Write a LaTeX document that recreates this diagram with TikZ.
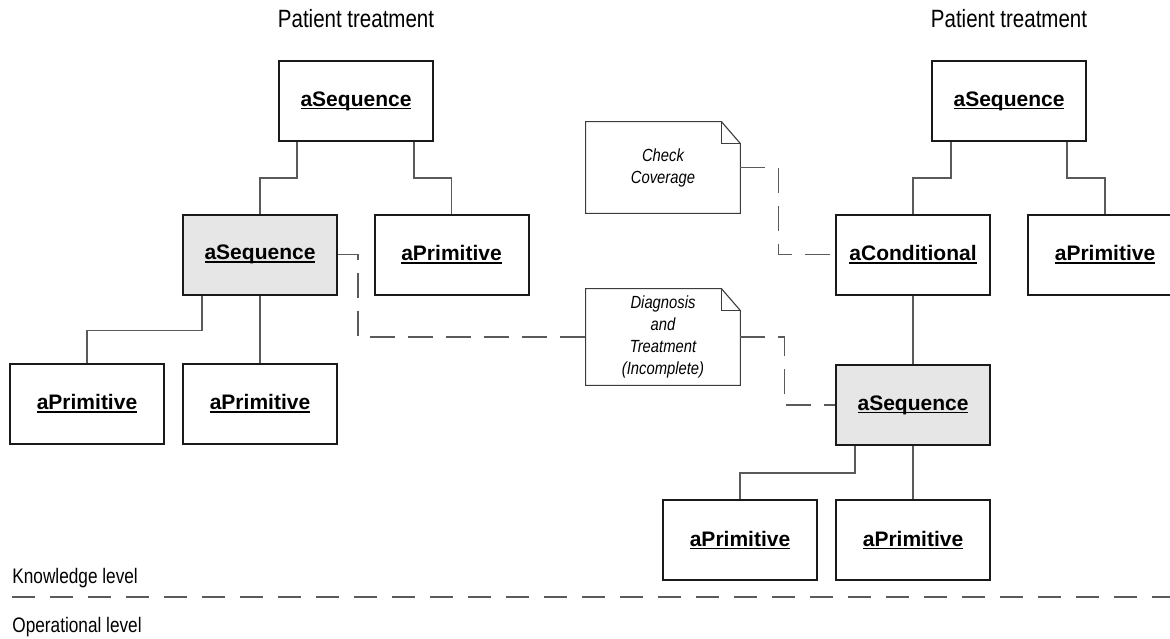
\documentclass[tikz,border=0pt]{standalone}
\usepackage{fontspec}
\setmainfont{Liberation Sans}
\newfontfamily\narrowfont[FakeStretch=0.82]{Liberation Sans}
\newfontfamily\notefont[FakeStretch=0.84]{Liberation Sans}
\definecolor{boxgray}{HTML}{E6E6E6}
\definecolor{linkgray}{HTML}{5A5A5A}
\definecolor{edgeblack}{HTML}{1A1A1A}
% underline sitting just under the baseline
\newcommand\labul[1]{\setbox0\hbox{#1}\rlap{\rule[-1.6pt]{\wd0}{0.75pt}}\box0}
\tikzset{
  obj/.style={draw=edgeblack, line width=1pt, minimum width=77pt, minimum height=40pt,
    inner sep=0pt, font=\bfseries\fontsize{10.5}{12}\selectfont},
  active/.style={obj, fill=boxgray},
  link/.style={draw=linkgray, line width=0.6pt},
  notebox/.style={minimum width=77pt, inner sep=0pt, align=center,
    font=\notefont\itshape\fontsize{8.8}{11}\selectfont},
  noteedge/.style={draw=edgeblack!85, line width=0.55pt, line join=miter},
  noteline/.style={draw=linkgray, line width=0.7pt, dash pattern=on 12.5pt off 6.5pt},
  levelline/.style={draw=linkgray, line width=0.8pt, dash pattern=on 11.5pt off 7.5pt},
  heading/.style={inner sep=0pt, font=\narrowfont\fontsize{12.5}{14}\selectfont},
  levellabel/.style={inner sep=0pt, anchor=base west, font=\narrowfont\fontsize{10.5}{12}\selectfont}
}
\begin{document}
\begin{tikzpicture}[x=0.5pt, y=-0.5pt]
\useasboundingbox (0,0) rectangle (1170,638);
\clip (0,0) rectangle (1170,638);

% headings
\node[heading] (h1) at (356,19) {Patient treatment};
\node[heading] (h2) at (1009,19) {Patient treatment};

% left tree
\node[obj]    (ls)  at (356,101)   {\labul{aSequence}};
\node[active] (lg)  at (260,254.5) {\labul{aSequence}};
\node[obj]    (lp)  at (451.5,254.5) {\labul{aPrimitive}};
\node[obj]    (lb1) at (87,403.5)  {\labul{aPrimitive}};
\node[obj]    (lb2) at (260,403.5) {\labul{aPrimitive}};

\draw[link] ([xshift=9.5pt]ls.south west) -- ++(0,36) -| (lg.north);
\draw[link] ([xshift=-10pt]ls.south east) -- ++(0,36) -| (lp.north);
\draw[link] ([xshift=10pt]lg.south west) -- ++(0,35) -| (lb1.north);
\draw[link] (lg.south) -- (lb2.north);

% right tree
\node[obj]    (rs)  at (1009,101)  {\labul{aSequence}};
\node[obj]    (rc)  at (913,254.5) {\labul{aConditional}};
\node[obj]    (rp)  at (1105,254.5) {\labul{aPrimitive}};
\node[active] (rg)  at (913,405)   {\labul{aSequence}};
\node[obj]    (rb1) at (740,540)   {\labul{aPrimitive}};
\node[obj]    (rb2) at (913,540)   {\labul{aPrimitive}};

\draw[link] ([xshift=10pt]rs.south west) -- ++(0,36) -| (rc.north);
\draw[link] ([xshift=-10pt]rs.south east) -- ++(0,36) -| (rp.north);
\draw[link] (rc.south) -- (rg.north);
\draw[link] ([xshift=10pt]rg.south west) -- ++(0,27) -| (rb1.north);
\draw[link] (rg.south) -- (rb2.north);

% notes with a folded corner
\node[notebox, minimum height=45.5pt] (n1) at (663,167.5) {Check\\Coverage};
\node[notebox, minimum height=48pt]   (n2) at (663,337)   {Diagnosis\\and\\Treatment\\(Incomplete)};
\foreach \n in {n1,n2}{
  \draw[noteedge] (\n.north west) -- ([xshift=-9.5pt]\n.north east)
    -- ([yshift=-11pt]\n.north east) -- (\n.south east) -- (\n.south west) -- cycle;
  \draw[noteedge] ([xshift=-9.5pt]\n.north east) |- ([yshift=-11pt]\n.north east);
}

\draw[noteline] (n1.east) -- ++(38,0) |- (rc.west);
\draw[noteline] (lg.east) -- ++(20,0) |- (n2.west);
\draw[noteline] (n2.east) -- ++(44,0) |- (rg.west);

% level separator
\node[levellabel] (kl) at (12,583) {Knowledge level};
\node[levellabel] (ol) at (12,632) {Operational level};
\coordinate (sepL) at (12,597);
\coordinate (sepR) at (1170,597);
\draw[levelline] (sepL) -- (sepR);
\end{tikzpicture}
\end{document}
